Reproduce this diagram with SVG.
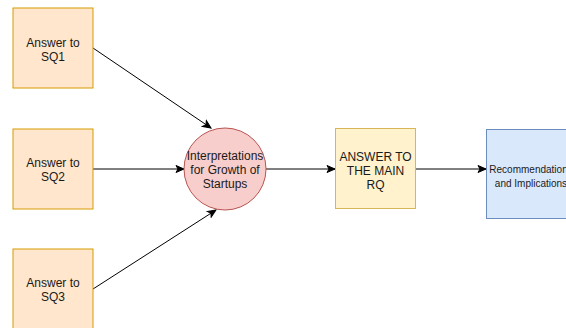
<svg xmlns="http://www.w3.org/2000/svg" width="566" height="328" viewBox="0 0 566 328">
  <style>
    .t { font-family: "Liberation Sans", Arial, Helvetica, sans-serif; font-size: 12px; fill: #1a1a1a; text-anchor: middle; }
    .s { font-size: 10px; }
    .sq { fill: #ffe6cc; stroke: #d79b00; stroke-width: 1; }
    .interp { fill: #f8cecc; stroke: #b85450; stroke-width: 1; }
    .main { fill: #fff2cc; stroke: #d6b656; stroke-width: 1; }
    .rec { fill: #dae8fc; stroke: #6c8ebf; stroke-width: 1; }
    .edge { stroke: #000; stroke-width: 1; fill: none; marker-end: url(#arrow); }
  </style>
  <defs>
    <marker id="arrow" viewBox="0 0 10 10" refX="9" refY="5" markerWidth="10" markerHeight="10" markerUnits="userSpaceOnUse" orient="auto">
      <path d="M1,1.5 L9,5 L1,8.5 L3,5 Z" fill="#000" stroke="#000" stroke-width="1"/>
    </marker>
  </defs>
  <rect width="566" height="328" fill="#fff"/>

  <g id="connectors">
    <line class="edge" x1="93" y1="48" x2="211" y2="128"/>
    <line class="edge" x1="93" y1="169" x2="184" y2="169"/>
    <line class="edge" x1="93" y1="289" x2="216" y2="210"/>
    <line class="edge" x1="266" y1="169" x2="335" y2="169"/>
    <line class="edge" x1="416" y1="169" x2="486" y2="169"/>
  </g>

  <g id="sq1">
    <rect class="sq" x="13" y="8" width="80" height="80"/>
    <text class="t" x="53" y="47">Answer to</text>
    <text class="t" x="53" y="61">SQ1</text>
  </g>
  <g id="sq2">
    <rect class="sq" x="13" y="129" width="80" height="80"/>
    <text class="t" x="53" y="167">Answer to</text>
    <text class="t" x="53" y="181">SQ2</text>
  </g>
  <g id="sq3">
    <rect class="sq" x="13" y="249" width="80" height="80"/>
    <text class="t" x="53" y="287">Answer to</text>
    <text class="t" x="53" y="301">SQ3</text>
  </g>

  <g id="interpretations">
    <circle class="interp" cx="225" cy="169" r="41"/>
    <text class="t" x="225" y="160">Interpretations</text>
    <text class="t" x="225" y="174">for Growth of</text>
    <text class="t" x="225" y="188">Startups</text>
  </g>

  <g id="main-rq">
    <rect class="main" x="335.5" y="128.5" width="80" height="80"/>
    <text class="t" x="375.5" y="161">ANSWER TO</text>
    <text class="t" x="375.5" y="175">THE MAIN</text>
    <text class="t" x="375.5" y="189">RQ</text>
  </g>

  <g id="recommendations">
    <rect class="rec" x="486.5" y="129.5" width="90" height="89"/>
    <text class="t s" x="531" y="172.5">Recommendations</text>
    <text class="t s" x="531" y="186.5">and Implications</text>
  </g>
</svg>
